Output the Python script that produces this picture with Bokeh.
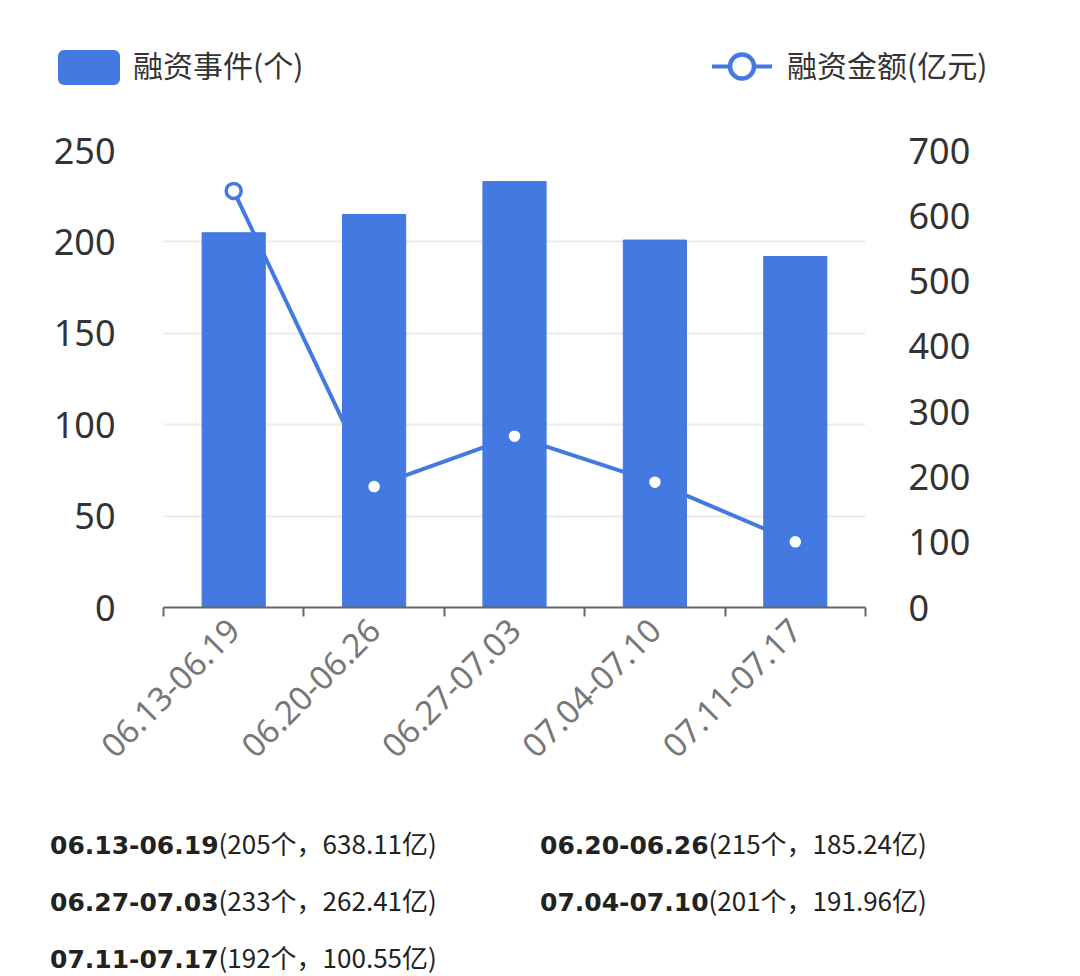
from math import pi
from bokeh.plotting import figure
from bokeh.models import Range1d, LinearAxis, FixedTicker, Div
from bokeh.layouts import column
from bokeh.embed import file_html
from bokeh.resources import INLINE

periods = ["06.13-06.19", "06.20-06.26", "06.27-07.03", "07.04-07.10", "07.11-07.17"]
events = [205, 215, 233, 201, 192]
amounts = [638.11, 185.24, 262.41, 191.96, 100.55]
left_ticks = [0, 50, 100, 150, 200, 250]
right_ticks = [0, 100, 200, 300, 400, 500, 600, 700]
bar_label = "融资事件(个)"
line_label = "融资金额(亿元)"

BLUE = "#4479E1"
CJK = "Noto Sans CJK SC"
LAT = "Noto Sans"

xs = list(range(1, len(periods) + 1))
bounds = [i + 0.5 for i in range(0, len(periods) + 1)]

# ---------------- legend strip (HTML) ----------------
LEG_H = 110
leg_html = (
    f"<div style=\"position:relative;width:1080px;height:{LEG_H}px;"
    f"font-family:'{CJK}';font-size:30px;color:#333;\">"
    f"<div style=\"position:absolute;left:58px;top:50px;width:62px;height:35px;"
    f"background:{BLUE};border-radius:6px;\"></div>"
    f"<div style=\"position:absolute;left:133px;top:44px;height:40px;line-height:40px;"
    f"white-space:nowrap;\">{bar_label}</div>"
    f"<svg style=\"position:absolute;left:710px;top:49px;\" width=\"64\" height=\"35\">"
    f"<line x1=\"2\" y1=\"17.5\" x2=\"62\" y2=\"17.5\" stroke=\"{BLUE}\" stroke-width=\"4\"/>"
    f"<circle cx=\"32\" cy=\"17.5\" r=\"12\" fill=\"white\" stroke=\"{BLUE}\" stroke-width=\"4.5\"/>"
    f"</svg>"
    f"<div style=\"position:absolute;left:787px;top:44px;height:40px;line-height:40px;"
    f"white-space:nowrap;\">{line_label}</div>"
    f"</div>"
)
leg = Div(text=leg_html, width=1080, height=LEG_H, margin=0)

# ---------------- main chart ----------------
p = figure(width=1080, height=800 - LEG_H, x_range=Range1d(0.5, len(periods) + 0.5),
           y_range=Range1d(0, 250), output_backend="svg", toolbar_location=None,
           min_border_left=163, min_border_right=215, min_border_top=150 - LEG_H,
           min_border_bottom=193)
p.extra_y_ranges = {"amt": Range1d(0, 700)}
p.outline_line_color = None

bars = p.vbar(x=xs, top=events, width=0.45, color=BLUE)
line = p.line(xs, amounts, y_range_name="amt", line_width=4, color=BLUE)
pts = p.scatter(xs, amounts, y_range_name="amt", size=15, fill_color="white",
                line_color=BLUE, line_width=3.5)

p.xaxis.ticker = FixedTicker(ticks=xs, minor_ticks=bounds)
p.xaxis.major_label_overrides = {x: lab for x, lab in zip(xs, periods)}
p.xaxis.major_tick_line_color = None
p.xaxis.minor_tick_line_color = "#666666"
p.xaxis.minor_tick_line_width = 2
p.xaxis.minor_tick_out = 9
p.xaxis.minor_tick_in = 0
p.xaxis.axis_line_color = "#666666"
p.xaxis.axis_line_width = 2
p.xaxis.major_label_orientation = pi / 4
p.xaxis.major_label_text_font = LAT
p.xaxis.major_label_text_font_size = "33px"
p.xaxis.major_label_text_color = "#777777"
p.xaxis.major_label_standoff = 8

p.yaxis.ticker = FixedTicker(ticks=left_ticks)
p.yaxis.axis_line_color = None
p.yaxis.major_tick_line_color = None
p.yaxis.minor_tick_line_color = None
p.yaxis.major_label_text_font = LAT
p.yaxis.major_label_text_font_size = "36px"
p.yaxis.major_label_text_color = "#333333"
p.yaxis.major_label_standoff = 42

ry = LinearAxis(y_range_name="amt", ticker=FixedTicker(ticks=right_ticks))
ry.axis_line_color = None
ry.major_tick_line_color = None
ry.minor_tick_line_color = None
ry.major_label_text_font = LAT
ry.major_label_text_font_size = "36px"
ry.major_label_text_color = "#333333"
ry.major_label_standoff = 37
p.add_layout(ry, "right")

p.xgrid.grid_line_color = None
p.ygrid.ticker = FixedTicker(ticks=left_ticks)
p.ygrid.grid_line_color = "#EBEBEB"
p.ygrid.grid_line_width = 2

# ---------------- summary texts ----------------
cells = "".join(
    f"<div style=\"height:57px;line-height:57px;white-space:nowrap;\">"
    f"<b style=\"font-family:'DejaVu Sans';font-size:25px;\">{per}</b>"
    f"<span>({ev}个，{am:.2f}亿)</span></div>"
    for per, ev, am in zip(periods, events, amounts)
)
html = (f"<div style=\"display:grid;grid-template-columns:490px 490px;"
        f"grid-auto-rows:57px;padding-left:50px;padding-top:14px;"
        f"font-family:'{CJK}';font-size:26px;color:#222;\">{cells}</div>")
div = Div(text=html, width=1080, height=176, margin=0)

layout = column(leg, p, div, spacing=0)
open("out.html", "w").write(file_html(layout, INLINE))
